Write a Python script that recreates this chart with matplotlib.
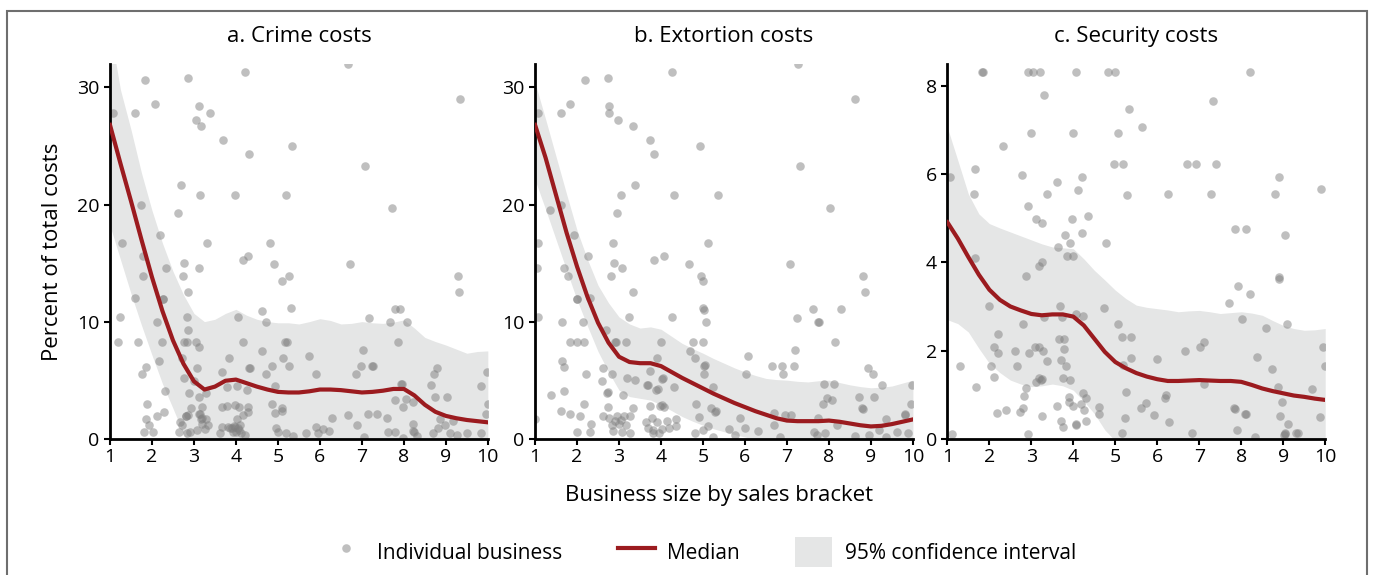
# crime / extortion / security costs by business size, three panels
import numpy as np
import matplotlib
matplotlib.use("Agg")
from matplotlib import pyplot as plt
from matplotlib.patches import Rectangle

plt.rcParams['font.family'] = ['Open Sans', 'DejaVu Sans']

# x grid of the smoothed median and its confidence band
grid_x = [1.0, 1.25, 1.5, 1.75, 2.0, 2.25, 2.5, 2.75, 3.0, 3.25, 3.5, 3.75,
          4.0, 4.25, 4.5, 4.75, 5.0, 5.25, 5.5, 5.75, 6.0, 6.25, 6.5, 6.75,
          7.0, 7.25, 7.5, 7.75, 8.0, 8.25, 8.5, 8.75, 9.0, 9.25, 9.5, 9.75, 10.0]

# a. crime costs
crime_med = [26.8, 23.5, 20.3, 17.0, 13.8, 10.9, 8.4, 6.4, 4.9, 4.2, 4.45, 4.95,
             5.05, 4.75, 4.45, 4.2, 4.0, 3.95, 3.95, 4.05, 4.2, 4.2, 4.15, 4.05,
             3.95, 4.0, 4.1, 4.25, 4.25, 3.7, 2.9, 2.3, 1.95, 1.75, 1.6, 1.5, 1.4]
crime_hi = [35.0, 29.8, 26.4, 22.7, 19.5, 16.7, 14.3, 12.3, 10.7, 10.0, 10.2, 10.7,
            11.05, 10.55, 10.2, 10.0, 9.9, 9.9, 9.8, 10.0, 10.25, 10.1, 9.8, 9.85,
            10.0, 9.9, 9.85, 9.95, 10.15, 9.45, 8.65, 8.3, 8.0, 7.65, 7.3, 7.45, 7.5]
crime_lo = [18.2, 15.3, 12.4, 9.7, 7.15, 4.7, 2.6, 0.45, -1.5, -2, -2, -2,
            -2, -2, -2, -2, -2, -2, -2, -2, -2, -2, -2, -2,
            -2, -2, -2, -2, -2, -2, -2, -2, -2, -2, -2, -2, -2]
crime_pts = [
    (6.67, 32.0), (4.22, 31.3), (1.84, 30.6), (2.87, 30.8), (9.33, 29.0), (2.08, 28.6),
    (3.13, 28.4), (1.08, 27.8), (1.6, 27.8), (3.39, 27.8), (3.06, 27.2), (3.17, 26.7),
    (3.69, 25.5), (5.33, 25.0), (4.32, 24.3), (7.07, 23.3), (2.69, 21.7), (3.15, 20.85),
    (3.98, 20.85), (5.2, 20.85), (1.75, 20.0), (2.63, 19.3), (7.71, 19.7), (2.2, 17.4),
    (1.29, 16.7), (3.32, 16.7), (4.82, 16.7), (1.79, 15.6), (4.29, 15.6), (4.18, 15.3),
    (2.76, 15.0), (4.9, 14.9), (6.72, 14.9), (2.33, 14.6), (3.11, 14.6), (1.79, 13.9),
    (2.75, 13.9), (5.26, 13.9), (5.1, 13.5), (9.29, 13.9), (9.31, 12.5), (2.87, 12.5),
    (1.6, 12.05), (2.26, 11.9), (2.27, 11.9), (5.31, 11.2), (7.8, 11.1), (7.9, 11.1),
    (1.24, 10.4), (2.84, 10.4), (4.04, 10.4), (4.61, 10.9), (4.71, 10.0), (7.17, 10.3),
    (7.68, 10.0), (8.08, 10.0), (2.13, 10.0), (2.87, 9.3), (1.18, 8.3), (1.67, 8.3),
    (2.23, 8.3), (2.77, 8.3), (2.83, 8.3), (3.06, 8.3), (4.17, 8.3), (5.17, 8.3),
    (5.21, 8.3), (7.87, 8.3), (3.11, 7.8), (4.63, 7.5), (7.02, 7.6), (5.13, 6.9),
    (5.74, 7.1), (3.84, 6.9), (2.71, 6.9), (2.17, 6.6), (6.99, 6.2), (7.25, 6.2),
    (7.27, 6.2), (5.27, 6.2), (4.85, 6.2), (1.86, 6.1), (4.31, 6.0), (4.33, 6.0),
    (8.79, 6.0), (3.07, 6.0), (3.67, 5.7), (1.76, 5.5), (4.71, 5.5), (5.9, 5.5),
    (6.85, 5.5), (8.72, 5.5), (2.77, 5.2), (3.01, 4.9), (8.64, 4.6), (4.93, 4.5),
    (3.78, 4.4), (4.03, 4.5), (4.26, 4.2), (2.3, 4.1), (7.94, 4.7), (7.95, 4.7),
    (3.13, 3.6), (3.28, 3.9), (2.89, 3.9), (8.75, 3.6), (9.02, 3.6), (7.79, 3.3),
    (8.05, 3.4), (8.22, 3.1), (7.98, 2.7), (4.86, 3.0), (3.66, 2.7), (3.78, 2.8),
    (3.97, 2.9), (4.08, 2.7), (4.29, 2.7), (3.2, 2.7), (2.93, 2.6), (5.1, 2.6),
    (1.87, 3.0), (4.94, 2.2), (5.1, 2.4), (2.29, 2.25), (4.29, 2.3), (4.16, 2.0),
    (3.15, 2.15), (2.81, 1.9), (2.82, 1.95), (2.87, 2.0), (3.13, 2.1), (3.16, 1.7),
    (3.19, 1.8), (3.29, 1.7), (2.13, 1.9), (7.15, 2.15), (7.36, 2.1), (6.68, 2.0),
    (7.61, 1.8), (6.29, 1.8), (1.86, 1.65), (8.87, 1.65), (9.16, 1.5), (4.03, 1.7),
    (2.66, 1.4), (2.71, 1.15), (1.94, 1.2), (6.89, 1.2), (8.98, 1.2), (8.21, 1.3),
    (3.2, 1.3), (3.33, 1.2), (3.68, 1.0), (3.8, 1.0), (3.85, 0.95), (3.9, 0.9),
    (3.95, 1.05), (3.98, 1.0), (4.05, 0.9), (4.1, 1.2), (4.07, 0.75), (4.0, 0.55),
    (3.92, 0.6), (3.27, 0.8), (3.08, 0.75), (5.9, 1.0), (4.96, 0.95), (6.08, 0.8),
    (6.21, 0.7), (8.81, 0.95), (8.21, 0.65), (8.23, 0.6), (2.84, 0.45), (1.8, 0.6),
    (2.02, 0.6), (2.64, 0.55), (2.9, 0.55), (5.0, 0.55), (5.19, 0.45), (5.66, 0.5),
    (5.95, 0.45), (7.63, 0.55), (7.78, 0.55), (8.7, 0.45), (9.1, 0.45), (9.27, 0.35),
    (5.37, 0.25), (7.06, 0.15), (7.98, 0.1), (8.31, 0.2), (3.62, 0.45), (4.11, 0.45),
    (4.22, 0.3), (9.83, 4.5), (9.97, 5.7), (10.0, 3.0), (9.95, 2.1), (9.83, 0.45),
    (9.5, 0.45),
]

# b. extortion costs
extort_med = [26.8, 24.0, 20.8, 17.6, 14.7, 12.1, 9.9, 8.2, 7.0, 6.55, 6.45, 6.45,
              6.2, 5.7, 5.2, 4.75, 4.3, 3.85, 3.45, 3.05, 2.7, 2.35, 2.05, 1.75,
              1.55, 1.5, 1.5, 1.5, 1.55, 1.45, 1.3, 1.15, 1.05, 1.1, 1.25, 1.45, 1.65]
extort_hi = [30.4, 27.3, 24.1, 20.9, 17.8, 15.3, 13.1, 11.6, 10.4, 9.8, 9.45, 9.55,
             9.35, 8.75, 8.15, 7.7, 7.3, 6.85, 6.45, 6.05, 5.7, 5.4, 5.15, 5.05,
             5.0, 4.9, 4.85, 4.95, 5.0, 4.8, 4.6, 4.45, 4.35, 4.4, 4.5, 4.75, 5.0]
extort_lo = [22.1, 19.6, 17.0, 14.4, 11.85, 9.6, 7.45, 5.7, 4.15, 3.6, 3.45, 3.3,
             2.9, 2.4, 1.9, 1.5, 1.15, 0.85, 0.6, 0.35, 0.15, -0.1, -0.5, -0.5,
             -0.5, -0.5, -0.5, -0.5, -0.5, -0.5, -0.5, -0.5, -0.5, -0.5, -0.5, -0.5, -0.5]
extort_pts = [
    (7.26, 32.0), (4.25, 31.3), (2.18, 30.6), (2.73, 30.8), (8.62, 29.0), (1.84, 28.6),
    (2.77, 28.4), (1.07, 27.8), (1.61, 27.8), (2.77, 27.8), (2.98, 27.2), (3.34, 26.7),
    (3.73, 25.5), (4.92, 25.0), (3.83, 24.3), (7.3, 23.3), (3.37, 21.7), (3.04, 20.85),
    (4.3, 20.85), (5.35, 20.85), (1.61, 20.0), (2.95, 19.3), (1.36, 19.5), (8.03, 19.7),
    (1.93, 17.4), (1.07, 16.7), (2.86, 16.7), (5.13, 16.7), (2.26, 15.6), (4.07, 15.6),
    (3.83, 15.3), (2.87, 15.0), (4.67, 14.9), (7.08, 14.9), (1.69, 14.6), (3.08, 14.6),
    (1.05, 14.6), (1.78, 13.9), (2.81, 13.9), (4.95, 13.9), (5.0, 13.5), (8.81, 13.9),
    (8.86, 12.5), (3.33, 12.5), (2.31, 12.05), (2.0, 11.9), (2.01, 11.9), (7.61, 11.1),
    (8.28, 11.1), (5.01, 11.15), (5.03, 11.0), (1.07, 10.4), (3.24, 10.4), (4.26, 10.4),
    (7.25, 10.3), (1.64, 10.0), (2.15, 10.0), (5.07, 10.0), (7.75, 10.0), (7.76, 10.0),
    (2.68, 9.3), (1.84, 8.3), (1.99, 8.3), (2.17, 8.3), (2.91, 8.3), (2.93, 8.3),
    (3.17, 8.3), (4.01, 8.3), (4.77, 8.3), (5.0, 8.3), (8.15, 8.3), (7.2, 7.6),
    (4.69, 7.5), (6.08, 7.1), (4.81, 6.9), (3.91, 6.9), (1.64, 6.6), (1.69, 6.1),
    (6.65, 6.2), (6.89, 6.2), (7.16, 6.2), (5.03, 6.2), (5.04, 6.3), (2.61, 6.0),
    (8.93, 6.0), (3.73, 5.8), (2.22, 5.5), (2.83, 5.5), (5.03, 5.5), (6.03, 5.5),
    (6.9, 5.5), (9.04, 5.5), (3.18, 5.2), (3.37, 5.0), (4.03, 5.1), (4.05, 5.2),
    (2.59, 4.9), (7.88, 4.7), (8.12, 4.7), (9.26, 4.6), (3.66, 4.6), (3.7, 4.55),
    (4.3, 4.4), (5.23, 4.4), (1.68, 4.1), (3.87, 4.2), (3.93, 4.25), (2.72, 3.9),
    (2.74, 3.95), (9.98, 4.6), (1.39, 3.7), (3.09, 3.7), (8.71, 3.6), (9.07, 3.6),
    (7.95, 3.45), (8.08, 3.3), (7.87, 3.0), (9.95, 3.0), (2.17, 3.0), (4.84, 3.0),
    (2.73, 2.7), (3.34, 2.6), (3.74, 2.8), (3.98, 2.8), (4.06, 2.7), (4.02, 2.9),
    (5.2, 2.6), (5.29, 2.3), (5.3, 2.35), (8.79, 2.6), (8.82, 2.55), (6.7, 2.2),
    (6.96, 2.0), (7.1, 2.0), (1.61, 2.35), (1.83, 2.1), (2.07, 1.9), (4.9, 1.85),
    (5.87, 1.75), (7.73, 1.8), (9.36, 1.65), (9.8, 2.1), (9.82, 2.05), (2.63, 1.9),
    (2.77, 1.8), (2.95, 1.9), (3.12, 1.95), (3.26, 1.9), (3.64, 1.45), (3.78, 1.8),
    (3.9, 1.45), (4.14, 1.55), (4.36, 1.65), (4.36, 1.1), (4.18, 0.9), (4.03, 0.8),
    (3.82, 0.75), (3.68, 0.9), (6.69, 1.2), (8.2, 1.2), (6.0, 0.95), (5.13, 1.1),
    (2.33, 1.25), (1.0, 1.65), (2.83, 1.2), (3.0, 1.3), (3.16, 1.2), (2.9, 1.5),
    (3.05, 1.6), (2.0, 0.55), (2.31, 0.6), (2.85, 0.65), (3.07, 0.55), (3.25, 0.45),
    (3.8, 0.45), (3.95, 0.5), (4.81, 0.45), (5.01, 0.75), (5.61, 0.8), (6.32, 0.7),
    (7.65, 0.55), (7.71, 0.35), (7.91, 0.45), (9.2, 0.75), (9.62, 0.55), (9.88, 0.45),
    (5.25, 0.15), (5.77, 0.3), (6.84, 0.15), (8.62, 0.2), (8.96, 0.3), (9.36, 0.15),
]

# c. security costs
secur_med = [4.91, 4.54, 4.12, 3.72, 3.38, 3.15, 3.0, 2.91, 2.83, 2.8, 2.82, 2.82,
             2.77, 2.57, 2.27, 1.97, 1.74, 1.6, 1.49, 1.41, 1.35, 1.31, 1.31, 1.32,
             1.33, 1.32, 1.31, 1.31, 1.29, 1.22, 1.14, 1.08, 1.03, 0.98, 0.95, 0.91, 0.88]
secur_hi = [7.06, 6.31, 5.55, 5.1, 4.88, 4.78, 4.69, 4.6, 4.51, 4.42, 4.35, 4.33,
            4.31, 4.08, 3.82, 3.6, 3.37, 3.18, 3.03, 2.98, 2.95, 2.92, 2.88, 2.9,
            2.91, 2.88, 2.84, 2.86, 2.88, 2.85, 2.8, 2.68, 2.57, 2.5, 2.46, 2.47, 2.5]
secur_lo = [2.7, 2.61, 2.42, 2.05, 1.71, 1.5, 1.33, 1.24, 1.18, 1.2, 1.24, 1.2,
            1.1, 0.85, 0.57, 0.2, -0.05, -0.3, -0.3, -0.3, -0.3, -0.3, -0.3, -0.3,
            -0.3, -0.3, -0.3, -0.3, -0.3, -0.3, -0.3, -0.3, -0.3, -0.3, -0.3, -0.3, -0.3]
secur_pts = [
    (1.83, 8.32), (1.84, 8.32), (2.91, 8.32), (3.03, 8.32), (3.21, 8.32), (4.06, 8.32),
    (4.82, 8.32), (5.0, 8.32), (8.21, 8.32), (3.3, 7.8), (7.32, 7.65), (5.33, 7.48),
    (2.33, 6.65), (5.64, 7.06), (2.99, 6.93), (4.0, 6.93), (5.07, 6.93), (4.97, 6.23),
    (5.19, 6.23), (6.7, 6.23), (6.93, 6.23), (7.39, 6.23), (1.65, 6.12), (1.06, 5.94),
    (2.78, 5.99), (4.2, 5.94), (8.91, 5.94), (3.62, 5.82), (4.1, 5.65), (9.91, 5.67),
    (1.64, 5.54), (3.38, 5.54), (5.27, 5.52), (6.25, 5.54), (7.29, 5.54), (8.81, 5.54),
    (2.92, 5.28), (4.34, 5.06), (3.1, 4.99), (3.97, 4.99), (3.26, 4.89), (7.84, 4.75),
    (8.12, 4.75), (4.21, 4.66), (9.05, 4.61), (3.8, 4.62), (4.78, 4.44), (3.93, 4.44),
    (3.63, 4.35), (3.85, 4.15), (4.0, 4.15), (1.67, 4.11), (3.25, 4.02), (3.18, 3.92),
    (2.87, 3.69), (8.9, 3.63), (8.91, 3.66), (7.92, 3.46), (8.21, 3.28), (1.98, 3.02),
    (3.68, 3.02), (4.73, 2.97), (7.71, 3.08), (4.06, 2.84), (4.24, 2.78), (3.72, 2.76),
    (3.3, 2.76), (8.01, 2.72), (2.79, 2.6), (5.06, 2.6), (9.09, 2.6), (8.59, 2.51),
    (2.2, 2.37), (5.17, 2.31), (5.38, 2.31), (3.67, 2.26), (3.78, 2.26), (7.12, 2.2),
    (7.01, 2.08), (9.95, 2.08), (2.1, 2.08), (3.08, 2.08), (3.18, 2.08), (3.27, 2.0),
    (3.78, 2.03), (2.6, 1.98), (2.95, 1.95), (2.21, 1.95), (6.66, 1.98), (8.37, 1.86),
    (3.71, 1.78), (3.38, 1.77), (5.38, 1.84), (5.99, 1.8), (1.3, 1.65), (2.04, 1.65),
    (2.66, 1.65), (3.82, 1.65), (10.0, 1.65), (5.18, 1.67), (8.74, 1.58), (2.1, 1.39),
    (3.19, 1.37), (3.24, 1.34), (3.25, 1.36), (3.76, 1.37), (3.91, 1.34), (3.1, 1.29),
    (8.87, 1.18), (9.68, 1.12), (7.12, 1.24), (1.69, 1.18), (2.87, 1.16), (5.25, 1.07),
    (2.83, 0.97), (4.22, 1.03), (4.3, 0.93), (6.21, 0.99), (6.19, 0.93), (8.98, 0.84),
    (3.89, 0.95), (3.9, 0.84), (4.0, 0.74), (4.18, 0.78), (5.72, 0.82), (3.61, 0.75),
    (4.62, 0.71), (4.26, 0.65), (2.79, 0.69), (2.73, 0.6), (2.4, 0.66), (2.19, 0.59),
    (5.62, 0.69), (7.83, 0.69), (7.84, 0.67), (8.1, 0.56), (8.11, 0.55), (5.92, 0.54),
    (4.61, 0.56), (3.25, 0.51), (8.92, 0.51), (9.87, 0.5), (5.23, 0.46), (3.7, 0.41),
    (4.31, 0.41), (6.27, 0.38), (4.06, 0.33), (4.07, 0.32), (9.12, 0.33), (3.76, 0.27),
    (7.89, 0.2), (9.3, 0.14), (9.36, 0.14), (9.04, 0.14), (9.03, 0.08), (9.05, 0.1),
    (5.17, 0.14), (6.82, 0.12), (1.12, 0.11), (2.91, 0.1), (8.33, 0.05),
]

panels = [
    ("a. Crime costs", crime_pts, crime_med, crime_lo, crime_hi, 32, [0, 10, 20, 30]),
    ("b. Extortion costs", extort_pts, extort_med, extort_lo, extort_hi, 32, [0, 10, 20, 30]),
    ("c. Security costs", secur_pts, secur_med, secur_lo, secur_hi, 8.5, [0, 2, 4, 6, 8]),
]

DOT_COLOR = '#808080'
LINE_COLOR = '#9b1b1f'
BAND_COLOR = '#e5e6e6'

fig = plt.figure(figsize=(13.73, 5.75), dpi=100)

lefts = [0.0801, 0.3897, 0.690]
ax_w, ax_b, ax_h = 0.2752, 0.237, 0.6517

axes = []
for left, (title, pts, med, lo, hi, ytop, yticks) in zip(lefts, panels):
    ax = fig.add_axes([left, ax_b, ax_w, ax_h])
    px = [p[0] for p in pts]
    py = [p[1] for p in pts]

    ax.fill_between(grid_x, lo, hi, color=BAND_COLOR, lw=0, zorder=1,
                    label="95% confidence interval")
    ax.scatter(px, py, s=38, color=DOT_COLOR, alpha=0.5, linewidths=0, zorder=2,
               label="Individual business")
    ax.plot(grid_x, med, color=LINE_COLOR, lw=3, zorder=3, label="Median")

    ax.set_xlim(1, 10)
    ax.set_ylim(0, ytop)
    ax.set_xticks(range(1, 11))
    ax.set_yticks(yticks)
    ax.set_title(title, fontsize=16, pad=16)

    for side in ("top", "right"):
        ax.spines[side].set_visible(False)
    for side in ("left", "bottom"):
        ax.spines[side].set_linewidth(2)
        ax.spines[side].set_color('black')
    ax.tick_params(axis='both', length=4.5, width=1.5, labelsize=14, color='black')
    ax.tick_params(axis='x', pad=2.5)
    ax.tick_params(axis='y', pad=3)
    axes.append(ax)

axes[0].set_ylabel("Percent of total costs", fontsize=16, labelpad=10)

fig.text(719 / 1373, 1 - 495 / 575, "Business size by sales bracket",
         fontsize=16, ha='center', va='center')

# legend below the panels
handles, labels = axes[0].get_legend_handles_labels()
order = [labels.index(k) for k in ("Individual business", "Median", "95% confidence interval")]
fig.legend([handles[i] for i in order], [labels[i] for i in order],
           loc='center', bbox_to_anchor=(702 / 1373, 1 - 552 / 575),
           ncol=3, frameon=False, fontsize=15, scatterpoints=1,
           handlelength=1.78, handleheight=1.78, handletextpad=0.6,
           columnspacing=2.65)

# thin grey frame around the chart, open at the bottom edge
fig.patches.append(Rectangle((7 / 1373, -0.05), (1366.5 - 7) / 1373, 0.05 + 1 - 10.7 / 575,
                             transform=fig.transFigure, fill=False,
                             edgecolor='#6e6e6e', lw=1.5))

fig.savefig("out.png", dpi=100)
